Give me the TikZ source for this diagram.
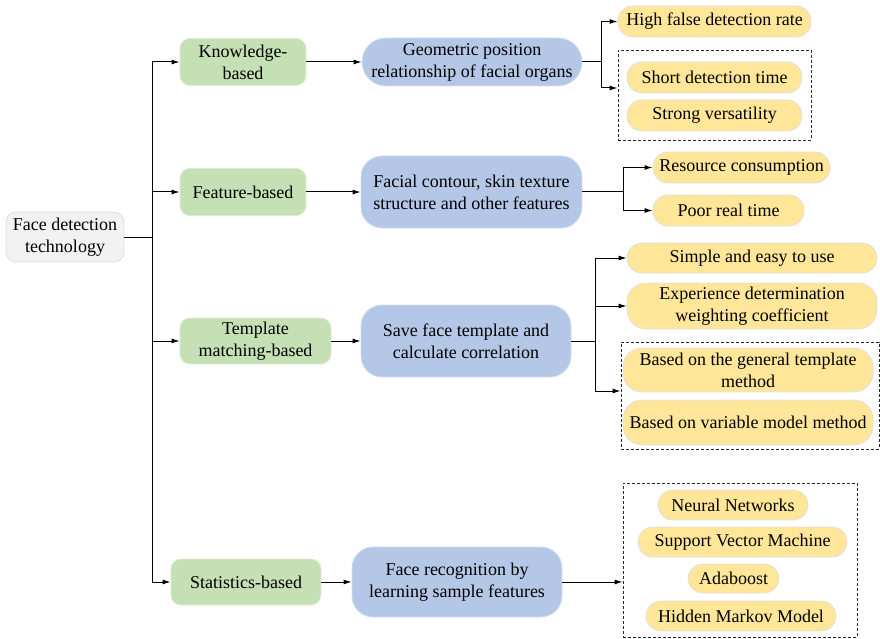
\documentclass[tikz,border=0pt]{standalone}
\usepackage{fontspec}
\setmainfont{Liberation Serif}
\usetikzlibrary{arrows.meta}
\definecolor{grn}{HTML}{C5E0B4}
\definecolor{blu}{HTML}{B4C7E7}
\definecolor{ylw}{HTML}{FFE699}
\definecolor{gry}{HTML}{F2F2F2}
\tikzset{
  box/.style={inner sep=0pt, align=center, line width=0.8pt, font=\fontsize{18}{22}\selectfont},
  rootbox/.style={box, fill=gry, draw=black!12, rounded corners=10pt},
  grnbox/.style={box, fill=grn, draw=grn!60!white, rounded corners=10pt},
  blubox/.style={box, fill=blu, draw=blu!60!white, rounded corners=21pt},
  ylwbox/.style={box, fill=ylw, draw=black!12, rounded corners=15pt},
  ylwtall/.style={box, fill=ylw, draw=black!12, rounded corners=19pt},
  dbox/.style={draw=black!85, dash pattern=on 3pt off 2pt, line width=0.8pt, inner sep=0pt},
  conn/.style={line width=1pt, black},
  arr/.style={conn, -{Latex[length=8pt,width=5pt]}}
}
\begin{document}
\begin{tikzpicture}[x=1pt,y=-1pt]
\useasboundingbox (0,0) rectangle (880,639);
% root
\node[rootbox, minimum width=118pt, minimum height=50pt] (root) at (65,237) {Face detection\\technology};
% level 1
\node[grnbox, minimum width=126pt, minimum height=47pt] (kb) at (243,62) {Knowledge-\\based};
\node[grnbox, minimum width=126pt, minimum height=47pt] (fb) at (243,192) {Feature-based};
\node[grnbox, minimum width=151pt, minimum height=46pt] (tm) at (255.5,341) {Template\\matching-based};
\node[grnbox, minimum width=150pt, minimum height=46pt] (sb) at (246,582) {Statistics-based};
% level 2
\node[blubox, rounded corners=24pt, minimum width=220pt, minimum height=48pt] (geo) at (472,62) {Geometric position\\relationship of facial organs};
\node[blubox, minimum width=221pt, minimum height=72pt] (fc) at (471.5,192) {Facial contour, skin texture\\structure and other features};
\node[blubox, minimum width=210pt, minimum height=72pt] (sf) at (466,341) {Save face template and\\calculate correlation};
\node[blubox, minimum width=210pt, minimum height=70pt] (fr) at (457,582) {Face recognition by\\learning sample features};
% dashed boxes
\node[dbox, minimum width=193pt, minimum height=90pt] (box1) at (714.5,95) {};
\node[dbox, minimum width=258pt, minimum height=107pt] (box2) at (750,395.5) {};
\node[dbox, minimum width=234pt, minimum height=154pt] (box3) at (740,560) {};
% level 3
\node[ylwbox, minimum width=193pt, minimum height=31pt] (hf) at (714.5,21.5) {High false detection rate};
\node[ylwbox, minimum width=175pt, minimum height=31pt] (sdt) at (714.5,77.5) {Short detection time};
\node[ylwbox, minimum width=175pt, minimum height=31pt] (sv) at (714.5,115.5) {Strong versatility};
\node[ylwbox, minimum width=177pt, minimum height=31pt] (rc) at (741.5,167.5) {Resource consumption};
\node[ylwbox, minimum width=151pt, minimum height=31pt] (prt) at (728.5,210.5) {Poor real time};
\node[ylwbox, minimum width=250pt, minimum height=30pt] (sim) at (752,258) {Simple and easy to use};
\node[ylwtall, minimum width=250pt, minimum height=46pt] (exp) at (752,306) {Experience determination\\weighting coefficient};
\node[ylwtall, minimum width=250pt, minimum height=44pt] (bg) at (748,370) {Based on the general template\\method};
\node[ylwtall, minimum width=250pt, minimum height=45pt] (bv) at (748,422.5) {Based on variable model method};
\node[ylwbox, minimum width=150pt, minimum height=30pt] (nn) at (733,505) {Neural Networks};
\node[ylwbox, minimum width=209pt, minimum height=30pt] (svm) at (742.5,542) {Support Vector Machine};
\node[ylwbox, minimum width=91pt, minimum height=29pt] (ada) at (733.5,578.5) {Adaboost};
\node[ylwbox, minimum width=190pt, minimum height=30pt] (hmm) at (741,616) {Hidden Markov Model};
% connectors
\coordinate (tr) at (152,237);
\draw[conn] (root.east) -- (tr);
\draw[arr] (tr) |- (kb.west);
\draw[arr] (tr) |- (fb.west);
\draw[arr] (tr) |- (tm.west);
\draw[arr] (tr) |- (sb.west);
\draw[arr] (kb.east) -- (geo.west);
\draw[arr] (fb.east) -- (fc.west);
\draw[arr] (tm.east) -- (sf.west);
\draw[arr] (sb.east) -- (fr.west);
% geo branch
\coordinate (b1) at (601,62);
\draw[conn] (geo.east) -- (b1);
\draw[arr] (b1) |- (hf.west);
\draw[arr] (b1) |- ([yshift=7pt]box1.west);
% facial branch
\coordinate (b2) at (623,192);
\draw[conn] (fc.east) -- (b2);
\draw[arr] (b2) |- (rc.west);
\draw[arr] (b2) |- (prt.west);
% save face branch
\coordinate (b3) at (595,341);
\draw[conn] (sf.east) -- (b3);
\draw[arr] (b3) |- (sim.west);
\draw[arr] (b3) |- (exp.west);
\draw[arr] (b3) |- ([yshift=4.5pt]box2.west);
% statistics
\draw[arr] (fr.east) -- (fr.east -| box3.west);
\end{tikzpicture}
\end{document}
